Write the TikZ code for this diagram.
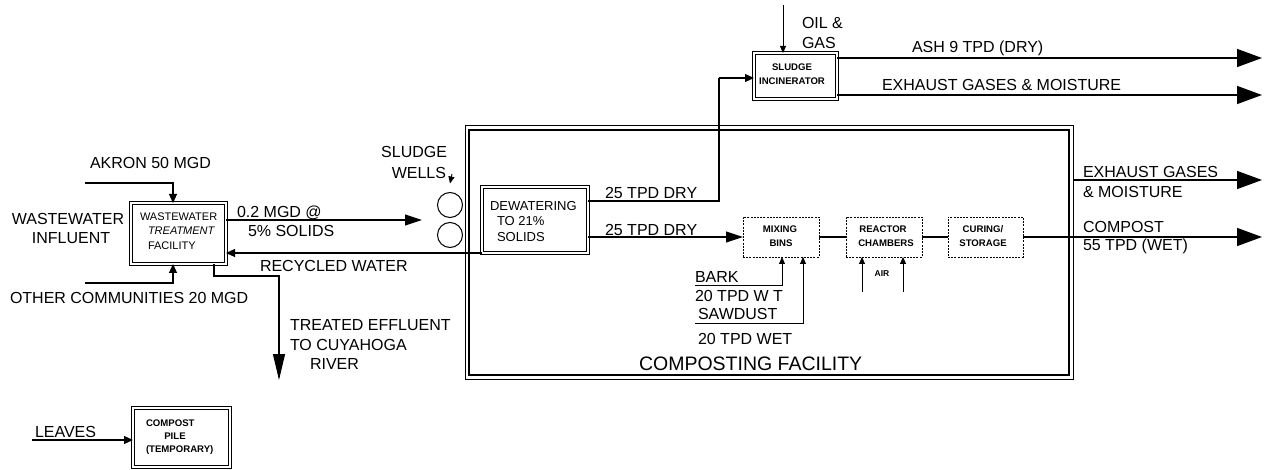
\documentclass[tikz,border=0pt]{standalone}
\usepackage{fontspec}
\setmainfont{Liberation Sans}
\usetikzlibrary{arrows.meta}
\begin{document}
\begin{tikzpicture}[x=1pt,y=-1pt,
  every node/.style={inner sep=0pt, outer sep=0pt},
  ln/.style={line width=1.1pt},
  bigarr/.style={line width=1.4pt, -{Triangle[length=25pt,width=18pt]}},
  effarr/.style={ln, -{Triangle[length=26pt,width=12pt]}},
  medarr/.style={ln, -{Triangle[length=17pt,width=11pt]}},
  smarr/.style={ln, -{Triangle[length=9pt,width=8pt]}},
  tinyarr/.style={line width=0.9pt, -{Triangle[length=7pt,width=6pt]}},
  dbox/.style={draw, double, double distance=2.6pt, line width=0.8pt},
  dashbox/.style={draw, line width=0.8pt, dash pattern=on 2pt off 1.2pt, minimum width=76pt, minimum height=40pt},
  lab/.style={font=\fontsize{16}{18}\selectfont, text height=11.5pt, text depth=0pt, anchor=west},
  wlab/.style={font=\fontsize{11}{12}\selectfont, text height=8pt, text depth=0pt, anchor=west},
  dlab/.style={font=\fontsize{13}{14}\selectfont, text height=9.4pt, text depth=0pt, anchor=west},
  blab/.style={font=\bfseries\fontsize{9.6}{11}\selectfont, text height=7pt, text depth=0pt}
]
\fill[white] (0,0) rectangle (1271,470);
\useasboundingbox (0,0) rectangle (1271,470);

% ---------- boxes ----------
\node[dbox, minimum width=95pt, minimum height=61pt] (wwtf) at (178.5,233.5) {};
\node[wlab] (w1) at (140,217) {WASTEWATER};
\node[wlab] (w2) at (148,231) {\itshape TREATMENT};
\node[wlab] (w3) at (148,246) {FACILITY};

\node[draw, line width=1pt, minimum width=608pt, minimum height=253pt] (fac) at (769,252.5) {};
\draw[line width=1.8pt] ([shift={(4,4)}]fac.north west) rectangle ([shift={(-4,-4)}]fac.south east);

\node[draw, circle, line width=1pt, minimum size=25pt] (well1) at (450,205) {};
\node[draw, circle, line width=1pt, minimum size=25pt] (well2) at (450,235) {};

\node[dbox, minimum width=106pt, minimum height=66pt] (dew) at (535,220) {};
\node[dlab] (d1) at (490,206) {DEWATERING};
\node[dlab] (d2) at (497,221) {TO 21\%};
\node[dlab] (d3) at (497,237) {SOLIDS};

\node[dashbox] (mix) at (781,237) {};
\node[blab] (m1) at (780,229) {MIXING};
\node[blab] (m2) at (781,243) {BINS};
\node[dashbox] (reac) at (884,237) {};
\node[blab] (r1) at (883,229) {REACTOR};
\node[blab] (r2) at (886,243) {CHAMBERS};
\node[dashbox, minimum width=75pt] (cur) at (985.5,237) {};
\node[blab] (c1) at (983,229) {CURING/};
\node[blab] (c2) at (983,243) {STORAGE};

\node[dbox, minimum width=83pt, minimum height=46pt] (inc) at (795.5,76) {};
\node[blab] (i1) at (792,67) {SLUDGE};
\node[blab] (i2) at (792,81) {INCINERATOR};

\node[dbox, minimum width=97pt, minimum height=59pt] (pile) at (181.5,437.5) {};
\node[blab, anchor=west] (p1) at (146,423) {COMPOST};
\node[blab] (p2) at (175,436) {PILE};
\node[blab, anchor=west] (p3) at (146,449) {(TEMPORARY)};

% ---------- labels ----------
\node[lab] (akronl) at (90,163) {AKRON 50 MGD};
\node[lab, anchor=center] (inf1) at (68,219) {WASTEWATER};
\node[lab, anchor=center] (inf2) at (71,238) {INFLUENT};
\node[lab] (otherl) at (10,298) {OTHER COMMUNITIES 20 MGD};
\node[lab] (mgd1) at (237,212) {0.2 MGD @};
\node[lab] (mgd2) at (248,231) {5\% SOLIDS};
\node[lab] (recl) at (260,266) {RECYCLED WATER};
\node[lab] (te1) at (290,325) {TREATED EFFLUENT};
\node[lab] (te2) at (290,345) {TO CUYAHOGA};
\node[lab] (te3) at (310,364) {RIVER};
\node[lab, anchor=east] (sw1) at (447,152) {SLUDGE};
\node[lab, anchor=east] (sw2) at (446,173) {WELLS};
\node[lab] (tpd1) at (605,193) {25 TPD DRY};
\node[lab] (tpd2) at (605,230) {25 TPD DRY};
\node[lab] (barkl) at (695,277) {BARK};
\node[lab] (barkw) at (695,296) {20 TPD W T};
\node[lab] (sawl) at (698,314) {SAWDUST};
\node[lab] (saww) at (698,339) {20 TPD WET};
\node[blab, font=\bfseries\fontsize{8.5}{9}\selectfont] (airl) at (882,273) {AIR};
\node[lab, font=\fontsize{19.5}{21}\selectfont, text height=14pt] (facl) at (639,363) {COMPOSTING FACILITY};
\node[lab] (oil1) at (802,23) {OIL \&};
\node[lab] (oil2) at (802,43) {GAS};
\node[lab] (ashl) at (912,47) {ASH 9 TPD (DRY)};
\node[lab] (exl) at (882,85) {EXHAUST GASES \& MOISTURE};
\node[lab] (ex2a) at (1083,172) {EXHAUST GASES};
\node[lab] (ex2b) at (1083,192) {\& MOISTURE};
\node[lab] (co1) at (1083,227) {COMPOST};
\node[lab] (co2) at (1083,245) {55 TPD (WET)};
\node[lab] (leavesl) at (35,432) {LEAVES};

% ---------- free ends ----------
\coordinate (akron) at (85,183);
\coordinate (other) at (85,283);
\coordinate (mgdend) at (422,220);
\coordinate (riv) at (279,380);
\coordinate (wellsa) at (452,174);
\coordinate (turn) at (719,78);
\coordinate (compend) at (1262,237);
\coordinate (exhend) at (1262,180);
\coordinate (ashend) at (1262,58);
\coordinate (ex1end) at (1262,95);
\coordinate (oil) at (783,5);
\coordinate (bark) at (695,285);
\coordinate (saw) at (695,323);
\coordinate (air1) at (862,292);
\coordinate (air2) at (903,292);
\coordinate (leaves) at (32,440);

% ---------- connectors ----------
\draw[smarr] (akron) -| ([xshift=-5.5pt]wwtf.north);
\draw[smarr] (other) -| ([xshift=-5.5pt]wwtf.south);
\draw[medarr] ([yshift=13.5pt]wwtf.east) -- (mgdend);
\draw[smarr] (dew.south west) -- (dew.south west -| wwtf.east);
\draw[effarr] ([xshift=35.5pt]wwtf.south) -- ++(0,12) -| (riv);
\draw[tinyarr] (wellsa) -- ([yshift=9pt]well1.north);
\draw[ln] ([yshift=19pt]dew.east) -| (turn);
\draw[smarr] (turn) -- ([yshift=-2pt]inc.west);
\draw[medarr] ([yshift=-17pt]dew.east) -- (mix.west);
\draw[ln] (mix.east) -- (reac.west);
\draw[ln] (reac.east) -- (cur.west);
\draw[bigarr] (cur.east) -- (compend);
\draw[bigarr] (fac.east |- exhend) -- (exhend);
\draw[bigarr] ([yshift=18pt]inc.east) -- (ashend);
\draw[bigarr] ([yshift=-19pt]inc.east) -- (ex1end);
\draw[tinyarr] (oil) -- (oil |- inc.north);
\draw[tinyarr] (bark) -| ([xshift=1pt]mix.south);
\draw[tinyarr] (saw) -| ([xshift=22pt]mix.south);
\draw[tinyarr] (air1) -- (air1 |- reac.south);
\draw[tinyarr] (air2) -- (air2 |- reac.south);
\draw[smarr] (leaves) -- (leaves -| pile.west);
\end{tikzpicture}
\end{document}
